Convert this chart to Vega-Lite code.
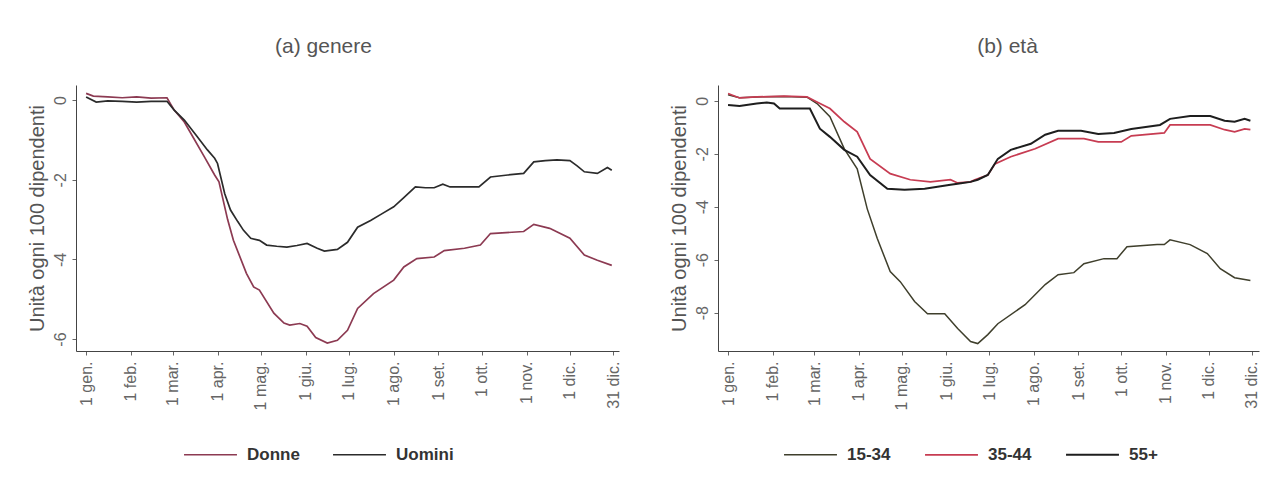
{
  "$schema": "https://vega.github.io/schema/vega-lite/v6.json",
  "background": "white",
  "padding": {"left": 26, "top": 36, "right": 0, "bottom": 0},
  "config": {
    "font": "Liberation Sans",
    "view": {"stroke": null},
    "axis": {
      "grid": false,
      "domainColor": "#444444",
      "domainWidth": 1,
      "tickColor": "#666666",
      "tickSize": 4,
      "labelColor": "#666666",
      "labelFontSize": 16,
      "titleColor": "#555555",
      "titleFontSize": 20,
      "titleFontWeight": "normal"
    },
    "legend": {
      "title": null,
      "orient": "none",
      "direction": "horizontal",
      "symbolType": "stroke",
      "symbolSize": 2800,
      "symbolStrokeWidth": 1.5,
      "labelFontSize": 17,
      "labelFontWeight": "bold",
      "labelColor": "#333333",
      "columnPadding": 30,
      "labelOffset": 9,
      "legendY": 342
    }
  },
  "spacing": 47,
  "resolve": {"scale": {"color": "independent", "strokeWidth": "independent"}, "legend": {"color": "independent"}},
  "hconcat": [
    {
      "width": 543,
      "height": 266,
      "title": {"text": "(a)  genere", "fontSize": 21, "fontWeight": "normal", "color": "#555555", "offset": 28, "frame": "group", "anchor": "middle", "dx": -24},
      "data": {"values": [
        {"serie": "Donne", "giorno": 0, "valore": 0.17},
        {"serie": "Donne", "giorno": 5, "valore": 0.1},
        {"serie": "Donne", "giorno": 15, "valore": 0.08},
        {"serie": "Donne", "giorno": 25, "valore": 0.06},
        {"serie": "Donne", "giorno": 35, "valore": 0.08},
        {"serie": "Donne", "giorno": 45, "valore": 0.05},
        {"serie": "Donne", "giorno": 56, "valore": 0.06},
        {"serie": "Donne", "giorno": 61, "valore": -0.25},
        {"serie": "Donne", "giorno": 68, "valore": -0.55},
        {"serie": "Donne", "giorno": 72, "valore": -0.8},
        {"serie": "Donne", "giorno": 82, "valore": -1.43},
        {"serie": "Donne", "giorno": 89, "valore": -1.88},
        {"serie": "Donne", "giorno": 92, "valore": -2.05},
        {"serie": "Donne", "giorno": 98, "valore": -3.0},
        {"serie": "Donne", "giorno": 102, "valore": -3.52},
        {"serie": "Donne", "giorno": 111, "valore": -4.35},
        {"serie": "Donne", "giorno": 116, "valore": -4.69},
        {"serie": "Donne", "giorno": 120, "valore": -4.77},
        {"serie": "Donne", "giorno": 130, "valore": -5.35},
        {"serie": "Donne", "giorno": 137, "valore": -5.6},
        {"serie": "Donne", "giorno": 141, "valore": -5.65},
        {"serie": "Donne", "giorno": 148, "valore": -5.61},
        {"serie": "Donne", "giorno": 153, "valore": -5.68},
        {"serie": "Donne", "giorno": 159, "valore": -5.96},
        {"serie": "Donne", "giorno": 167, "valore": -6.1},
        {"serie": "Donne", "giorno": 174, "valore": -6.03},
        {"serie": "Donne", "giorno": 181, "valore": -5.78},
        {"serie": "Donne", "giorno": 188, "valore": -5.23},
        {"serie": "Donne", "giorno": 199, "valore": -4.86},
        {"serie": "Donne", "giorno": 213, "valore": -4.52},
        {"serie": "Donne", "giorno": 220, "valore": -4.19},
        {"serie": "Donne", "giorno": 229, "valore": -3.98},
        {"serie": "Donne", "giorno": 241, "valore": -3.94},
        {"serie": "Donne", "giorno": 248, "valore": -3.78},
        {"serie": "Donne", "giorno": 262, "valore": -3.72},
        {"serie": "Donne", "giorno": 273, "valore": -3.64},
        {"serie": "Donne", "giorno": 280, "valore": -3.35},
        {"serie": "Donne", "giorno": 303, "valore": -3.3},
        {"serie": "Donne", "giorno": 310, "valore": -3.12},
        {"serie": "Donne", "giorno": 321, "valore": -3.22},
        {"serie": "Donne", "giorno": 335, "valore": -3.47},
        {"serie": "Donne", "giorno": 345, "valore": -3.89},
        {"serie": "Donne", "giorno": 354, "valore": -4.02},
        {"serie": "Donne", "giorno": 364, "valore": -4.15},
        {"serie": "Uomini", "giorno": 0, "valore": 0.08},
        {"serie": "Uomini", "giorno": 7, "valore": -0.05},
        {"serie": "Uomini", "giorno": 15, "valore": -0.02},
        {"serie": "Uomini", "giorno": 25, "valore": -0.03},
        {"serie": "Uomini", "giorno": 35, "valore": -0.05},
        {"serie": "Uomini", "giorno": 45, "valore": -0.03},
        {"serie": "Uomini", "giorno": 56, "valore": -0.03},
        {"serie": "Uomini", "giorno": 61, "valore": -0.25},
        {"serie": "Uomini", "giorno": 68, "valore": -0.5},
        {"serie": "Uomini", "giorno": 77, "valore": -0.92},
        {"serie": "Uomini", "giorno": 84, "valore": -1.25},
        {"serie": "Uomini", "giorno": 89, "valore": -1.46},
        {"serie": "Uomini", "giorno": 91, "valore": -1.59},
        {"serie": "Uomini", "giorno": 96, "valore": -2.35},
        {"serie": "Uomini", "giorno": 100, "valore": -2.76},
        {"serie": "Uomini", "giorno": 105, "valore": -3.05},
        {"serie": "Uomini", "giorno": 109, "valore": -3.27},
        {"serie": "Uomini", "giorno": 114, "valore": -3.47},
        {"serie": "Uomini", "giorno": 120, "valore": -3.52},
        {"serie": "Uomini", "giorno": 125, "valore": -3.64},
        {"serie": "Uomini", "giorno": 132, "valore": -3.67},
        {"serie": "Uomini", "giorno": 139, "valore": -3.69},
        {"serie": "Uomini", "giorno": 146, "valore": -3.65},
        {"serie": "Uomini", "giorno": 153, "valore": -3.6},
        {"serie": "Uomini", "giorno": 160, "valore": -3.72},
        {"serie": "Uomini", "giorno": 165, "valore": -3.79},
        {"serie": "Uomini", "giorno": 174, "valore": -3.75},
        {"serie": "Uomini", "giorno": 181, "valore": -3.57},
        {"serie": "Uomini", "giorno": 188, "valore": -3.19},
        {"serie": "Uomini", "giorno": 197, "valore": -3.02},
        {"serie": "Uomini", "giorno": 205, "valore": -2.85},
        {"serie": "Uomini", "giorno": 213, "valore": -2.68},
        {"serie": "Uomini", "giorno": 220, "valore": -2.45},
        {"serie": "Uomini", "giorno": 228, "valore": -2.18},
        {"serie": "Uomini", "giorno": 235, "valore": -2.2},
        {"serie": "Uomini", "giorno": 241, "valore": -2.2},
        {"serie": "Uomini", "giorno": 247, "valore": -2.11},
        {"serie": "Uomini", "giorno": 252, "valore": -2.18},
        {"serie": "Uomini", "giorno": 262, "valore": -2.18},
        {"serie": "Uomini", "giorno": 272, "valore": -2.18},
        {"serie": "Uomini", "giorno": 280, "valore": -1.93},
        {"serie": "Uomini", "giorno": 292, "valore": -1.88},
        {"serie": "Uomini", "giorno": 303, "valore": -1.84},
        {"serie": "Uomini", "giorno": 310, "valore": -1.55},
        {"serie": "Uomini", "giorno": 318, "valore": -1.52},
        {"serie": "Uomini", "giorno": 326, "valore": -1.5},
        {"serie": "Uomini", "giorno": 335, "valore": -1.52},
        {"serie": "Uomini", "giorno": 340, "valore": -1.65},
        {"serie": "Uomini", "giorno": 345, "valore": -1.8},
        {"serie": "Uomini", "giorno": 354, "valore": -1.84},
        {"serie": "Uomini", "giorno": 361, "valore": -1.69},
        {"serie": "Uomini", "giorno": 364, "valore": -1.76}
      ]},
      "mark": {"type": "line", "strokeWidth": 1.7},
      "encoding": {
        "x": {
          "field": "giorno", "type": "quantitative",
          "scale": {"domain": [-7, 369], "nice": false, "zero": false},
          "axis": {
            "title": null,
            "values": [0, 31, 60, 91, 121, 152, 182, 213, 244, 274, 305, 335, 365],
            "labelExpr": "['1 gen.','1 feb.','1 mar.','1 apr.','1 mag.','1 giu.','1 lug.','1 ago.','1 set.','1 ott.','1 nov.','1 dic.','31 dic.'][indexof([0,31,60,91,121,152,182,213,244,274,305,335,365], datum.value)]",
            "labelAngle": -90,
            "labelPadding": 6
          }
        },
        "y": {
          "field": "valore", "type": "quantitative",
          "scale": {"domain": [-6.3, 0.38], "nice": false, "zero": false},
          "axis": {
            "title": "Unità ogni 100 dipendenti",
            "values": [0, -2, -4, -6],
            "labelExpr": "'' + datum.value",
            "labelAngle": -90,
            "labelAlign": "center",
            "labelBaseline": "bottom",
            "labelPadding": 4,
            "titlePadding": 5
          }
        },
        "color": {
          "field": "serie", "type": "nominal",
          "scale": {"domain": ["Donne", "Uomini"], "range": ["#8c3a52", "#2b2b2b"]},
          "legend": {"legendX": 107}
        }
      }
    },
    {
      "width": 541,
      "height": 266,
      "title": {"text": "(b)  età", "fontSize": 21, "fontWeight": "normal", "color": "#555555", "offset": 28, "frame": "group", "anchor": "middle", "dx": 19},
      "data": {"values": [
        {"serie": "15-34", "giorno": 0, "valore": 0.23},
        {"serie": "15-34", "giorno": 8, "valore": 0.12},
        {"serie": "15-34", "giorno": 20, "valore": 0.15},
        {"serie": "15-34", "giorno": 39, "valore": 0.17},
        {"serie": "15-34", "giorno": 55, "valore": 0.14},
        {"serie": "15-34", "giorno": 62, "valore": -0.1},
        {"serie": "15-34", "giorno": 71, "valore": -0.6},
        {"serie": "15-34", "giorno": 81, "valore": -1.81},
        {"serie": "15-34", "giorno": 90, "valore": -2.57},
        {"serie": "15-34", "giorno": 97, "valore": -4.08},
        {"serie": "15-34", "giorno": 104, "valore": -5.2},
        {"serie": "15-34", "giorno": 113, "valore": -6.45},
        {"serie": "15-34", "giorno": 120, "valore": -6.83},
        {"serie": "15-34", "giorno": 130, "valore": -7.58},
        {"serie": "15-34", "giorno": 139, "valore": -8.04},
        {"serie": "15-34", "giorno": 151, "valore": -8.04},
        {"serie": "15-34", "giorno": 160, "valore": -8.6},
        {"serie": "15-34", "giorno": 169, "valore": -9.09},
        {"serie": "15-34", "giorno": 174, "valore": -9.17},
        {"serie": "15-34", "giorno": 181, "valore": -8.83},
        {"serie": "15-34", "giorno": 188, "valore": -8.42},
        {"serie": "15-34", "giorno": 207, "valore": -7.7},
        {"serie": "15-34", "giorno": 221, "valore": -6.94},
        {"serie": "15-34", "giorno": 230, "valore": -6.57},
        {"serie": "15-34", "giorno": 241, "valore": -6.49},
        {"serie": "15-34", "giorno": 248, "valore": -6.15},
        {"serie": "15-34", "giorno": 262, "valore": -5.96},
        {"serie": "15-34", "giorno": 271, "valore": -5.96},
        {"serie": "15-34", "giorno": 278, "valore": -5.51},
        {"serie": "15-34", "giorno": 299, "valore": -5.43},
        {"serie": "15-34", "giorno": 304, "valore": -5.43},
        {"serie": "15-34", "giorno": 308, "valore": -5.25},
        {"serie": "15-34", "giorno": 322, "valore": -5.43},
        {"serie": "15-34", "giorno": 334, "valore": -5.77},
        {"serie": "15-34", "giorno": 343, "valore": -6.34},
        {"serie": "15-34", "giorno": 353, "valore": -6.68},
        {"serie": "15-34", "giorno": 364, "valore": -6.79},
        {"serie": "35-44", "giorno": 0, "valore": 0.28},
        {"serie": "35-44", "giorno": 8, "valore": 0.11},
        {"serie": "35-44", "giorno": 20, "valore": 0.15},
        {"serie": "35-44", "giorno": 39, "valore": 0.18},
        {"serie": "35-44", "giorno": 55, "valore": 0.15},
        {"serie": "35-44", "giorno": 62, "valore": -0.04},
        {"serie": "35-44", "giorno": 71, "valore": -0.29},
        {"serie": "35-44", "giorno": 81, "valore": -0.79},
        {"serie": "35-44", "giorno": 90, "valore": -1.17},
        {"serie": "35-44", "giorno": 99, "valore": -2.19},
        {"serie": "35-44", "giorno": 113, "valore": -2.75},
        {"serie": "35-44", "giorno": 127, "valore": -2.98},
        {"serie": "35-44", "giorno": 141, "valore": -3.06},
        {"serie": "35-44", "giorno": 155, "valore": -2.98},
        {"serie": "35-44", "giorno": 160, "valore": -3.1},
        {"serie": "35-44", "giorno": 169, "valore": -3.06},
        {"serie": "35-44", "giorno": 172, "valore": -2.98},
        {"serie": "35-44", "giorno": 181, "valore": -2.8},
        {"serie": "35-44", "giorno": 186, "valore": -2.38},
        {"serie": "35-44", "giorno": 197, "valore": -2.11},
        {"serie": "35-44", "giorno": 214, "valore": -1.81},
        {"serie": "35-44", "giorno": 230, "valore": -1.43},
        {"serie": "35-44", "giorno": 248, "valore": -1.43},
        {"serie": "35-44", "giorno": 258, "valore": -1.55},
        {"serie": "35-44", "giorno": 274, "valore": -1.55},
        {"serie": "35-44", "giorno": 281, "valore": -1.32},
        {"serie": "35-44", "giorno": 304, "valore": -1.21},
        {"serie": "35-44", "giorno": 308, "valore": -0.91},
        {"serie": "35-44", "giorno": 336, "valore": -0.91},
        {"serie": "35-44", "giorno": 346, "valore": -1.09},
        {"serie": "35-44", "giorno": 353, "valore": -1.17},
        {"serie": "35-44", "giorno": 360, "valore": -1.06},
        {"serie": "35-44", "giorno": 364, "valore": -1.09},
        {"serie": "55+", "giorno": 0, "valore": -0.16},
        {"serie": "55+", "giorno": 8, "valore": -0.19},
        {"serie": "55+", "giorno": 20, "valore": -0.1},
        {"serie": "55+", "giorno": 27, "valore": -0.06},
        {"serie": "55+", "giorno": 32, "valore": -0.1},
        {"serie": "55+", "giorno": 36, "valore": -0.29},
        {"serie": "55+", "giorno": 45, "valore": -0.29},
        {"serie": "55+", "giorno": 57, "valore": -0.29},
        {"serie": "55+", "giorno": 64, "valore": -1.05},
        {"serie": "55+", "giorno": 71, "valore": -1.36},
        {"serie": "55+", "giorno": 81, "valore": -1.85},
        {"serie": "55+", "giorno": 90, "valore": -2.11},
        {"serie": "55+", "giorno": 99, "valore": -2.8},
        {"serie": "55+", "giorno": 111, "valore": -3.32},
        {"serie": "55+", "giorno": 123, "valore": -3.36},
        {"serie": "55+", "giorno": 137, "valore": -3.32},
        {"serie": "55+", "giorno": 155, "valore": -3.17},
        {"serie": "55+", "giorno": 160, "valore": -3.13},
        {"serie": "55+", "giorno": 169, "valore": -3.06},
        {"serie": "55+", "giorno": 174, "valore": -2.98},
        {"serie": "55+", "giorno": 181, "valore": -2.8},
        {"serie": "55+", "giorno": 188, "valore": -2.19},
        {"serie": "55+", "giorno": 197, "valore": -1.85},
        {"serie": "55+", "giorno": 211, "valore": -1.62},
        {"serie": "55+", "giorno": 221, "valore": -1.28},
        {"serie": "55+", "giorno": 230, "valore": -1.13},
        {"serie": "55+", "giorno": 246, "valore": -1.13},
        {"serie": "55+", "giorno": 258, "valore": -1.25},
        {"serie": "55+", "giorno": 269, "valore": -1.21},
        {"serie": "55+", "giorno": 281, "valore": -1.06},
        {"serie": "55+", "giorno": 301, "valore": -0.91},
        {"serie": "55+", "giorno": 308, "valore": -0.68},
        {"serie": "55+", "giorno": 322, "valore": -0.57},
        {"serie": "55+", "giorno": 336, "valore": -0.57},
        {"serie": "55+", "giorno": 346, "valore": -0.75},
        {"serie": "55+", "giorno": 353, "valore": -0.79},
        {"serie": "55+", "giorno": 360, "valore": -0.68},
        {"serie": "55+", "giorno": 364, "valore": -0.75}
      ]},
      "mark": {"type": "line"},
      "encoding": {
        "x": {
          "field": "giorno", "type": "quantitative",
          "scale": {"domain": [-7, 370], "nice": false, "zero": false},
          "axis": {
            "title": null,
            "values": [0, 31, 60, 91, 121, 152, 182, 213, 244, 274, 305, 335, 365],
            "labelExpr": "['1 gen.','1 feb.','1 mar.','1 apr.','1 mag.','1 giu.','1 lug.','1 ago.','1 set.','1 ott.','1 nov.','1 dic.','31 dic.'][indexof([0,31,60,91,121,152,182,213,244,274,305,335,365], datum.value)]",
            "labelAngle": -90,
            "labelPadding": 6
          }
        },
        "y": {
          "field": "valore", "type": "quantitative",
          "scale": {"domain": [-9.45, 0.6], "nice": false, "zero": false},
          "axis": {
            "title": "Unità ogni 100 dipendenti",
            "values": [0, -2, -4, -6, -8],
            "labelExpr": "'' + datum.value",
            "labelAngle": -90,
            "labelAlign": "center",
            "labelBaseline": "bottom",
            "labelPadding": 4,
            "titlePadding": 5
          }
        },
        "color": {
          "field": "serie", "type": "nominal",
          "scale": {"domain": ["15-34", "35-44", "55+"], "range": ["#3f3f2c", "#c73c52", "#1e1e1e"]},
          "legend": {"symbolStrokeWidth": 2, "legendX": 65}
        },
        "strokeWidth": {
          "field": "serie", "type": "ordinal",
          "scale": {"domain": ["15-34", "35-44", "55+"], "range": [1.5, 2, 2.5]},
          "legend": null
        }
      }
    }
  ]
}
